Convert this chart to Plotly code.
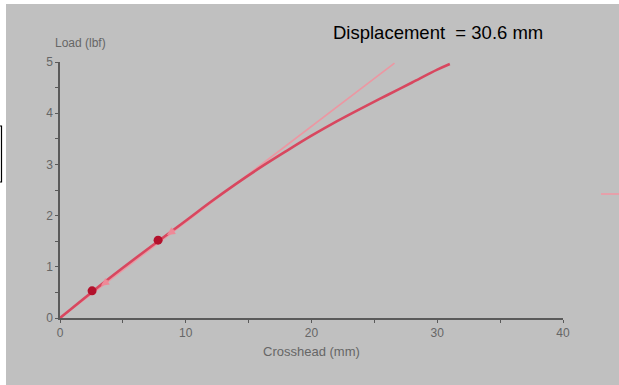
import plotly.graph_objects as go

# Data
crosshead_mm = [0, 2.5, 5, 7.8, 10, 12, 14, 16, 18, 20, 22, 24, 26, 28, 30, 31]
load_lbf = [0, 0.5, 0.98, 1.5, 1.9, 2.27, 2.62, 2.95, 3.26, 3.56, 3.84, 4.1, 4.35, 4.6, 4.85, 4.96]

elastic_x = [0, 26.6]
elastic_y = [0, 4.98]

marker_x = [2.55, 7.8]
marker_y = [0.53, 1.52]

x_ticks = [0, 10, 20, 30, 40]
y_ticks = [0, 1, 2, 3, 4, 5]

BG = "#c0c0c0"
AX = "#5a5a5a"
TXT = "#666666"

fig = go.Figure()
fig.add_trace(go.Scatter(x=elastic_x, y=elastic_y, mode="lines",
                         line=dict(color="#ec97a2", width=1.6), hoverinfo="skip"))
fig.add_trace(go.Scatter(x=crosshead_mm, y=load_lbf, mode="lines",
                         line=dict(color="#d8475f", width=2.6, shape="spline"), hoverinfo="skip"))
fig.add_trace(go.Scatter(x=marker_x, y=marker_y, mode="markers",
                         marker=dict(color="#b3112c", size=9, symbol="circle"), hoverinfo="skip"))

axis_common = dict(showline=True, linecolor=AX, linewidth=1.5, showgrid=False, zeroline=False,
                   ticks="outside", ticklen=3, tickcolor=AX, tickwidth=1,
                   tickfont=dict(family="Arial", size=12, color=TXT))
fig.update_xaxes(range=[0, 40], tickvals=x_ticks, ticktext=[str(v) for v in x_ticks],
                 minor=dict(tickvals=[5, 15, 25, 35], ticks="outside", ticklen=3, tickcolor=AX),
                 **axis_common)
fig.update_yaxes(range=[0, 5], tickvals=y_ticks, ticktext=[str(v) for v in y_ticks],
                 minor=dict(tickvals=[0.5, 1.5, 2.5, 3.5, 4.5], ticks="outside", ticklen=3, tickcolor=AX),
                 **axis_common)

pw, ph = 503, 256
def px(xp):
    return (xp - 60) / pw
def py(yp):
    return (318 - yp) / ph

shapes = [
    # white left strip and top strip
    dict(type="rect", xref="paper", yref="paper", x0=px(-5), x1=px(6), y0=py(400), y1=py(-5),
         fillcolor="white", line=dict(width=0), layer="below"),
    dict(type="rect", xref="paper", yref="paper", x0=px(-5), x1=px(625), y0=py(4), y1=py(-5),
         fillcolor="white", line=dict(width=0), layer="below"),
    # black box at left edge
    dict(type="rect", xref="paper", yref="paper", x0=px(-10), x1=px(1.5), y0=py(182), y1=py(126),
         fillcolor="rgba(0,0,0,0)", line=dict(color="black", width=1.2)),
    # pink dash at right edge
    dict(type="line", xref="paper", yref="paper", x0=px(601), x1=px(620), y0=py(194), y1=py(194),
         line=dict(color="#e6a0aa", width=2)),
]

annotations = [
    dict(text="Load (lbf)", xref="paper", yref="paper", x=px(80), y=py(43), showarrow=False,
         xanchor="center", yanchor="middle", font=dict(family="Arial", size=12, color=TXT)),
    dict(text="Crosshead (mm)", xref="paper", yref="paper", x=px(311), y=py(351), showarrow=False,
         xanchor="center", yanchor="middle", font=dict(family="Arial", size=13, color=TXT)),
    dict(text="Displacement  = 30.6 mm", xref="paper", yref="paper", x=px(438), y=py(32),
         showarrow=False, xanchor="center", yanchor="middle",
         font=dict(family="Arial", size=18.5, color="black")),
]
for mx, my in zip(marker_x, marker_y):
    annotations.append(dict(x=mx + 0.7, y=my + 0.1, ax=9, ay=-6, xref="x", yref="y",
                            showarrow=True, arrowhead=2, arrowsize=0.9, arrowwidth=1.8,
                            arrowcolor="#ee8a98", text=""))

fig.update_layout(width=619, height=385, margin=dict(l=60, r=56, t=62, b=67),
                  paper_bgcolor=BG, plot_bgcolor=BG, showlegend=False,
                  shapes=shapes, annotations=annotations)

fig.write_html("out.html", config={"displayModeBar": False},
               post_script="document.body.style.margin='0';document.body.style.overflow='hidden';"
                           "document.body.style.background='#c0c0c0';")
